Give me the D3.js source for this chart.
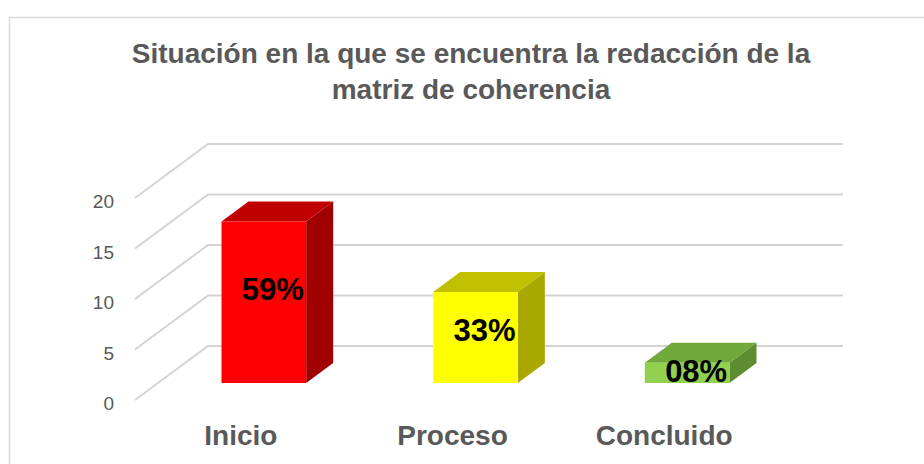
<!DOCTYPE html>
<html>
<head>
<meta charset="utf-8">
<script src="https://cdn.jsdelivr.net/npm/d3@7"></script>
<style>
  body { margin: 0; background: #fff; }
  svg { display: block; font-family: "Liberation Sans", Arial, sans-serif; }
</style>
</head>
<body>
<svg id="chart" width="924" height="464"></svg>
<script>
var categories = ["Inicio", "Proceso", "Concluido"];
var values = [16, 9, 2];
var percentLabels = ["59%", "33%", "08%"];
var tickValues = [0, 5, 10, 15, 20];
var titleLines = ["Situación en la que se encuentra la redacción de la", "matriz de coherencia"];

var faceColors = ["#ff0000", "#ffff00", "#92d050"];
var topColors = ["#c00000", "#c0c000", "#70a83c"];
var sideColors = ["#a00000", "#a8a800", "#5e8c30"];

var svg = d3.select("#chart");

// 3d depth of the floor, and where the bars sit inside it
var depth = { dx: 73, dy: -54 };
var barFront = 0.315, barBack = 0.685;

var x = d3.scaleBand().domain(categories).range([135, 770]).paddingInner(0.6).paddingOuter(0.3);
var y = d3.scaleLinear().domain([0, 20]).range([400, 198]);

function proj(px, py, f) {
    return [px + depth.dx * f, py + depth.dy * f];
}

// frame
svg.append("rect")
    .attr("x", 9.5).attr("y", 17.5)
    .attr("width", 1000).attr("height", 600)
    .attr("fill", "none").attr("stroke", "#d9d9d9").attr("stroke-width", 1.5);

// title
svg.append("g").selectAll("text")
    .data(titleLines)
    .join("text")
    .attr("x", 471)
    .attr("y", function (d, i) { return 63 + i * 36; })
    .attr("text-anchor", "middle")
    .attr("font-size", 28)
    .attr("font-weight", "bold")
    .attr("fill", "#595959")
    .text(function (d) { return d; });

// gridlines: diagonal on the side wall, then flat along the back wall
var x0 = x.range()[0], x1 = x.range()[1];
svg.append("g").selectAll("path")
    .data(tickValues)
    .join("path")
    .attr("d", function (t) {
        var a = [x0, y(t)], b = proj(x0, y(t), 1), c = proj(x1, y(t), 1);
        return "M" + a + "L" + b + "L" + c;
    })
    .attr("fill", "none")
    .attr("stroke", "#d4d4d4")
    .attr("stroke-width", 2);

// tick labels
svg.append("g").selectAll("text")
    .data(tickValues)
    .join("text")
    .attr("x", 114)
    .attr("y", function (t) { return y(t) + 10; })
    .attr("text-anchor", "end")
    .attr("font-size", 19)
    .attr("fill", "#595959")
    .text(function (t) { return t; });

// bars
var bars = svg.append("g").selectAll("g")
    .data(values)
    .join("g");

function pts(list) {
    return list.map(function (p) { return p.join(","); }).join(" ");
}

bars.each(function (v, i) {
    var g = d3.select(this);
    var l = x(categories[i]), r = l + x.bandwidth();
    var top = y(v), bot = y(0);
    var fl = proj(l, top, barFront), fr = proj(r, top, barFront);
    var flb = proj(l, bot, barFront), frb = proj(r, bot, barFront);
    var bl = proj(l, top, barBack), br = proj(r, top, barBack);
    var brb = proj(r, bot, barBack);

    g.append("polygon").attr("points", pts([fr, br, brb, frb])).attr("fill", sideColors[i]);
    g.append("polygon").attr("points", pts([fl, bl, br, fr])).attr("fill", topColors[i]);
    g.append("polygon").attr("points", pts([fl, fr, frb, flb])).attr("fill", faceColors[i]);
});

// value labels
svg.append("g").selectAll("text")
    .data(values)
    .join("text")
    .attr("x", function (v, i) { return x(categories[i]) + x.bandwidth() / 2 + depth.dx * barFront + 9; })
    .attr("y", function (v) { return y(v * 0.58) + depth.dy * barFront; })
    .attr("dominant-baseline", "central")
    .attr("text-anchor", "middle")
    .attr("font-size", 31)
    .attr("font-weight", "bold")
    .attr("fill", "#000")
    .text(function (v, i) { return percentLabels[i]; });

// category labels
svg.append("g").selectAll("text")
    .data(categories)
    .join("text")
    .attr("x", function (d) { return x(d) + x.bandwidth() / 2; })
    .attr("y", 445)
    .attr("text-anchor", "middle")
    .attr("font-size", 28)
    .attr("font-weight", "bold")
    .attr("fill", "#595959")
    .text(function (d) { return d; });
</script>
</body>
</html>
